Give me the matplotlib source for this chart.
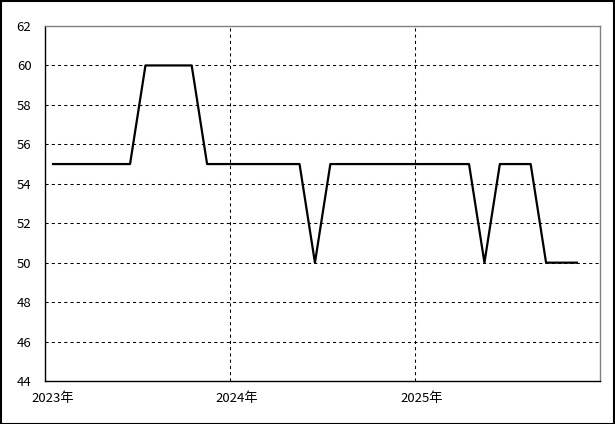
import matplotlib
matplotlib.use('Agg')
import matplotlib.pyplot as plt
import matplotlib.transforms as mtransforms
from matplotlib.patches import Rectangle

plt.rcParams['font.family'] = ['Noto Sans CJK JP', 'DejaVu Sans']

# monthly values, Jan 2023 .. Nov 2025
values = [55, 55, 55, 55, 55, 55,
          60, 60, 60, 60,
          55, 55, 55, 55, 55, 55, 55,
          50,
          55, 55, 55, 55, 55, 55, 55, 55, 55, 55,
          50,
          55, 55, 55,
          50, 50, 50]
year_labels = ['2023年', '2024年', '2025年']
year_ticks = [-0.5, 11.5, 23.5]
y_ticks = [44, 46, 48, 50, 52, 54, 56, 58, 60, 62]

fig = plt.figure(figsize=(6.15, 4.24), dpi=100)
ax = fig.add_axes([45.3 / 615, 43 / 424, (600 - 45.3) / 615, (381 - 26) / 424])

# black frame round the whole picture
fig.patches.append(Rectangle((0.001, 0.001), 0.997, 0.996, transform=fig.transFigure,
                             fill=False, edgecolor='black', linewidth=1.5))

ax.plot(range(len(values)), values, color='black', linewidth=1.6, zorder=3)

ax.set_xlim(-0.5, 35.5)
ax.set_ylim(44, 62)
ax.set_yticks(y_ticks)
ax.set_xticks(year_ticks)
ax.set_xticklabels(year_labels)

ax.tick_params(axis='both', length=0, labelsize=9.5, colors='black')
ax.tick_params(axis='y', pad=10)
ax.tick_params(axis='x', pad=8)
# year labels sit a little right of their grid line
offset = mtransforms.ScaledTranslation(7 / 100, 0, fig.dpi_scale_trans)
for lbl in ax.get_xticklabels():
    lbl.set_transform(lbl.get_transform() + offset)

ax.grid(True, color='black', linestyle=(0, (3, 3)), linewidth=0.75)
ax.set_axisbelow(True)

for s in ['left', 'bottom']:
    ax.spines[s].set_color('black')
    ax.spines[s].set_linewidth(1.0)
for s in ['top', 'right']:
    ax.spines[s].set_color('#808080')
    ax.spines[s].set_linewidth(1.0)

fig.savefig('out.png', dpi=100)
